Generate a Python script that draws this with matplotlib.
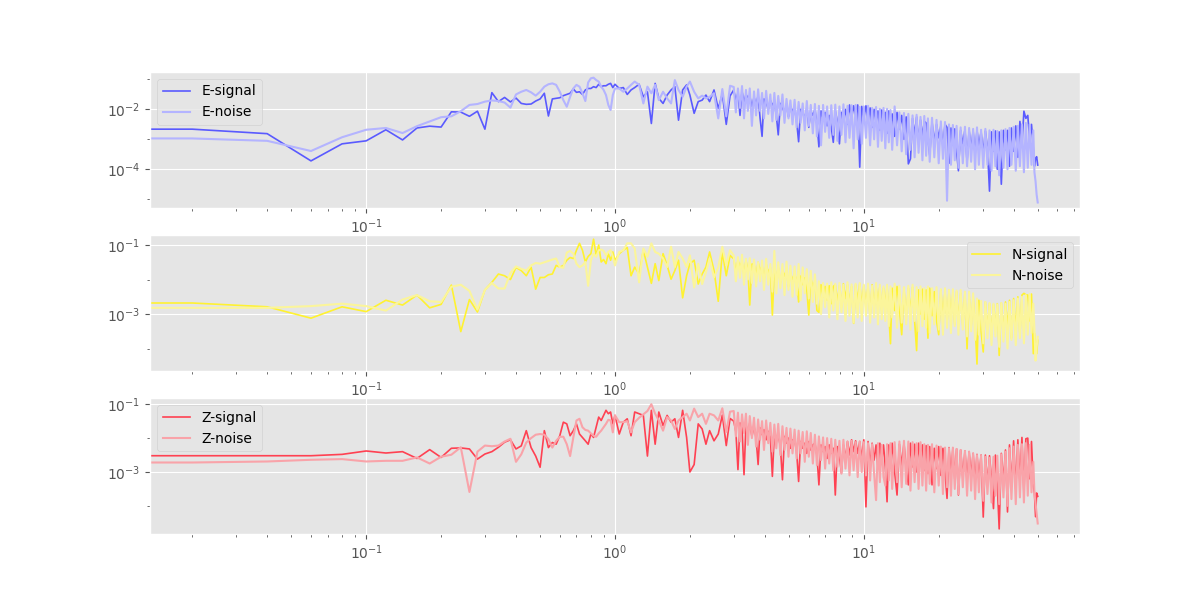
import numpy as np
import matplotlib
matplotlib.use('Agg')
from matplotlib import pyplot as plt
from matplotlib.ticker import NullFormatter

plt.style.use('ggplot')

# frequency bins (Hz)
freq = [0.00, 0.02, 0.04, 0.06, 0.08, 0.10, 0.12, 0.14, 0.16, 0.18, 0.20,
        0.22, 0.24, 0.26, 0.28, 0.30, 0.32, 0.34, 0.36, 0.38, 0.40,
        0.42, 0.44, 0.46, 0.48, 0.50, 0.52, 0.54, 0.56, 0.58, 0.60,
        0.62, 0.64, 0.66, 0.68, 0.70, 0.72, 0.74, 0.76, 0.78, 0.80,
        0.82, 0.84, 0.86, 0.88, 0.90, 0.92, 0.94, 0.96, 0.98, 1.00,
        1.04, 1.08, 1.12, 1.16, 1.2, 1.25, 1.3, 1.35, 1.4, 1.45, 1.5, 1.56, 1.62,
        1.68, 1.74, 1.8, 1.87, 1.94, 2.0, 2.08, 2.16, 2.24, 2.32, 2.4, 2.5, 2.6,
        2.7, 2.8, 2.9,
        3.00, 3.06, 3.12, 3.18, 3.24, 3.30, 3.36, 3.42, 3.48, 3.55,
        3.62, 3.69, 3.76, 3.83, 3.90, 3.97, 4.05, 4.13, 4.21, 4.29,
        4.37, 4.45, 4.53, 4.62, 4.71, 4.80, 4.89, 4.98, 5.07, 5.17,
        5.27, 5.37, 5.47, 5.57, 5.68, 5.79, 5.90, 6.01, 6.12, 6.24,
        6.36, 6.48, 6.60, 6.73, 6.86, 6.99, 7.12, 7.26, 7.40, 7.54,
        7.68, 7.83, 7.98, 8.13, 8.28, 8.44, 8.60, 8.76, 8.93, 9.10,
        9.27, 9.45, 9.63, 9.81, 10.0,
        10.2, 10.4, 10.6, 10.8, 11.0, 11.2, 11.4, 11.6, 11.8, 12.0,
        12.2, 12.4, 12.6, 12.8, 13.0, 13.3, 13.6, 13.9, 14.2, 14.5,
        14.8, 15.1, 15.4, 15.7, 16.0, 16.3, 16.6, 16.9, 17.2, 17.5,
        17.8, 18.1, 18.4, 18.8, 19.2, 19.6, 20.0, 20.4, 20.8, 21.2,
        21.6, 22.0, 22.4, 22.8, 23.2, 23.6, 24.0, 24.5, 25.0, 25.5,
        26.0, 26.5, 27.0, 27.5, 28.0, 28.5, 29.0, 29.6, 30.2, 30.8,
        31.4, 32.0, 32.6, 33.2, 33.8, 34.4, 35.0, 35.7, 36.4, 37.1,
        37.8, 38.5, 39.2, 40.0, 40.8, 41.6, 42.4, 43.2, 44.0, 44.8,
        45.6, 46.4, 47.2, 48.0, 48.5, 49.0, 49.5, 50.0]

# spectral amplitudes, stored as log10 values
e_signal = [-2.66, -2.66, -2.81, -3.72, -3.15, -3.05, -2.68, -3.02, -2.62, -2.56, -2.59,
            -2.08, -2.09, -2.23, -2.06, -2.66, -1.44, -1.74, -1.60, -1.75, -1.62,
            -1.80, -1.83, -1.82, -1.72, -1.65, -1.46, -2.22, -1.65, -1.63, -1.61,
            -1.54, -1.50, -1.46, -1.32, -1.43, -1.41, -1.50, -1.35, -1.30, -1.30,
            -1.24, -1.27, -1.16, -1.24, -1.21, -1.21, -1.16, -1.13, -1.27, -1.16,
            -1.30, -1.27, -1.50, -1.35, -1.27, -1.16, -1.58, -1.41, -2.47, -1.13, -1.63, -1.80, -1.52,
            -1.35, -1.24, -2.36, -1.35, -1.18, -1.52, -2.13, -1.74, -1.69, -1.52, -1.74, -1.35, -1.97,
            -1.49, -2.50, -1.55,
            -1.35, -1.70, -1.45, -2.20, -1.40, -1.75, -1.50, -1.60, -1.55, -1.90,
            -1.60, -1.80, -1.55, -2.30, -2.90, -1.65, -1.75, -2.00, -1.70, -1.85,
            -1.75, -2.20, -2.85, -1.80, -1.95, -2.10, -1.85, -2.25, -1.90, -2.05,
            -1.95, -2.40, -3.08, -2.00, -2.10, -2.30, -1.95, -2.60, -2.05, -2.20,
            -2.00, -2.45, -3.25, -2.05, -2.30, -2.10, -2.55, -2.20, -2.60, -3.10,
            -2.05, -2.40, -3.15, -2.10, -2.35, -2.00, -2.50, -1.85, -2.30, -1.88,
            -2.20, -1.85, -3.93, -1.90, -2.30,
            -1.88, -2.40, -1.95, -2.60, -2.00, -2.45, -2.05, -2.70, -2.02, -2.50,
            -2.10, -2.80, -2.05, -2.55, -2.15, -2.90, -2.10, -2.65, -2.20, -3.00,
            -2.25, -3.82, -3.65, -2.30, -2.85, -2.25, -3.10, -2.35, -2.90, -2.40,
            -2.45, -3.00, -3.53, -2.42, -3.10, -2.50, -2.95, -2.55, -3.20, -2.50,
            -2.60, -3.80, -2.62, -3.20, -2.65, -3.40, -4.05, -2.70, -3.15, -2.68,
            -3.75, -2.70, -3.30, -2.72, -3.50, -2.70, -3.20, -2.75, -3.45, -2.72,
            -3.30, -4.73, -2.75, -3.40, -2.72, -4.00, -2.75, -4.50, -2.70, -3.35,
            -2.70, -3.90, -2.62, -3.40, -2.55, -3.60, -2.40, -3.20, -2.06, -2.30,
            -2.20, -3.00, -2.50, -3.30, -3.90, -3.64, -3.58, -3.86]
e_noise = [-2.97, -2.97, -3.05, -3.39, -2.93, -2.68, -2.62, -2.79, -2.56, -2.40, -2.26,
           -2.23, -2.06, -1.85, -1.82, -1.74, -1.70, -1.72, -1.77, -1.94, -1.50,
           -1.41, -1.35, -1.43, -1.54, -1.41, -1.24, -1.16, -1.13, -1.18, -1.41,
           -1.69, -1.91, -1.58, -1.30, -1.18, -1.24, -1.46, -1.72, -1.10, -0.96,
           -0.94, -1.02, -1.07, -1.24, -1.35, -1.52, -1.85, -2.02, -1.52, -1.30,
           -1.30, -1.41, -1.30, -1.18, -1.07, -1.18, -1.80, -1.24, -1.46, -1.18, -1.69, -1.41, -1.63,
           -1.80, -1.02, -1.35, -1.58, -1.24, -1.07, -1.41, -1.63, -1.54, -1.63, -1.58, -1.46, -2.30,
           -1.32, -2.23, -1.21,
           -1.25, -2.10, -1.30, -1.95, -1.22, -2.30, -1.35, -2.05, -1.30, -2.55,
           -1.40, -2.20, -1.33, -2.05, -1.45, -2.30, -1.38, -2.15, -1.50, -2.40,
           -1.45, -2.35, -1.55, -2.20, -1.50, -2.45, -1.65, -2.30, -1.70, -2.50,
           -1.68, -2.60, -1.75, -2.45, -1.80, -2.70, -1.72, -2.55, -1.85, -2.80,
           -1.82, -2.90, -1.88, -3.20, -1.85, -2.75, -1.90, -2.95, -1.86, -2.85,
           -1.84, -3.05, -1.90, -2.85, -1.83, -3.10, -1.88, -2.95, -1.86, -3.30,
           -1.85, -3.00, -1.92, -3.15, -1.90,
           -2.95, -1.88, -3.20, -1.95, -3.00, -1.92, -3.25, -1.98, -3.05, -1.95,
           -3.30, -1.98, -3.10, -2.02, -3.35, -1.90, -3.20, -2.10, -3.40, -2.12,
           -3.50, -2.15, -3.35, -2.20, -3.60, -2.18, -3.45, -2.25, -3.70, -2.22,
           -3.55, -2.30, -3.75, -2.28, -3.60, -2.35, -3.80, -2.40, -3.65, -2.42,
           -5.05, -2.50, -3.85, -2.52, -3.70, -2.55, -3.95, -2.60, -3.80, -2.58,
           -3.90, -2.62, -3.75, -2.65, -4.00, -2.60, -3.85, -2.68, -3.95, -2.65,
           -3.85, -2.70, -4.05, -2.68, -3.90, -2.72, -4.20, -2.70, -3.95, -2.66,
           -4.00, -2.62, -3.85, -2.58, -4.05, -2.55, -3.90, -2.50, -4.10, -2.45,
           -3.95, -2.50, -3.85, -2.70, -4.10, -4.40, -4.85, -5.11]

n_signal = [-2.68, -2.68, -2.79, -3.12, -2.79, -2.93, -2.60, -2.74, -2.45, -2.82, -2.72,
            -2.16, -3.51, -2.58, -2.94, -2.30, -2.08, -1.84, -1.89, -2.00, -1.65,
            -1.74, -1.89, -1.64, -2.28, -1.94, -1.94, -1.86, -1.84, -1.59, -1.64,
            -1.59, -1.44, -1.36, -1.39, -1.15, -0.95, -1.15, -1.49, -1.33, -1.25,
            -0.83, -1.30, -1.00, -1.49, -1.42, -1.54, -1.25, -1.44, -1.20, -1.44,
            -1.25, -1.15, -1.07, -1.89, -1.64, -1.84, -1.15, -1.64, -2.11, -1.54, -2.03, -1.25, -1.59,
            -1.99, -1.74, -1.44, -2.53, -1.89, -1.54, -1.44, -2.13, -1.84, -1.64, -1.20, -1.74, -2.63,
            -1.20, -1.89, -1.30,
            -1.40, -1.75, -1.45, -1.60, -1.50, -1.85, -1.45, -1.70, -2.74, -1.55,
            -1.55, -1.90, -1.50, -1.75, -1.60, -2.00, -1.55, -1.80, -1.65, -3.03,
            -1.70, -1.95, -1.65, -2.10, -1.75, -1.90, -1.70, -2.20, -1.80, -2.00,
            -1.85, -2.00, -2.65, -1.90, -2.15, -1.95, -2.30, -3.03, -1.95, -2.20,
            -2.05, -2.90, -2.95, -2.15, -2.50, -2.20, -2.60, -2.18, -2.70, -2.20,
            -2.15, -2.65, -2.18, -2.80, -2.12, -2.55, -2.15, -2.70, -2.20, -3.27,
            -2.15, -2.60, -2.12, -2.75, -2.18,
            -2.70, -2.20, -3.07, -2.15, -2.80, -2.22, -2.65, -2.20, -2.90, -2.25,
            -2.75, -2.20, -3.00, -3.86, -2.25, -2.90, -2.20, -2.85, -3.60, -2.28,
            -3.10, -2.25, -2.95, -2.22, -3.20, -4.06, -2.30, -3.00, -2.28, -3.15,
            -2.30, -3.70, -2.25, -3.05, -2.35, -3.20, -3.60, -2.30, -3.10, -2.35,
            -3.25, -2.32, -3.15, -2.40, -3.30, -2.35, -3.20, -2.40, -3.35, -2.38,
            -4.01, -2.45, -3.40, -2.50, -3.30, -4.45, -2.60, -3.50, -4.10, -2.65,
            -3.45, -2.70, -3.60, -2.72, -3.40, -2.70, -4.20, -2.68, -3.55, -2.65,
            -3.40, -2.60, -3.70, -2.55, -3.45, -2.50, -3.60, -2.45, -2.40, -2.44,
            -2.45, -3.20, -2.42, -4.15, -3.56, -3.86, -4.15, -3.76]
n_noise = [-2.82, -2.82, -2.82, -2.77, -2.70, -2.77, -2.90, -2.58, -2.45, -2.63, -2.65,
           -2.21, -2.15, -2.33, -2.87, -2.30, -2.10, -2.26, -2.26, -1.81, -1.62,
           -1.69, -1.74, -1.59, -1.52, -1.54, -1.50, -1.46, -1.42, -1.39, -1.64,
           -1.66, -1.22, -1.17, -1.25, -1.54, -1.64, -1.59, -1.49, -2.18, -1.44,
           -1.25, -1.34, -1.15, -1.13, -1.17, -1.30, -1.20, -1.15, -1.34, -1.59,
           -1.20, -1.15, -0.95, -0.95, -1.10, -2.08, -1.10, -1.34, -0.95, -1.20, -1.25, -1.39, -1.64,
           -1.05, -1.64, -1.20, -1.39, -1.64, -1.30, -2.23, -1.54, -2.13, -1.79, -1.39, -1.94, -1.64,
           -1.05, -1.59, -1.15,
           -1.30, -2.05, -1.35, -1.95, -1.28, -2.15, -1.40, -2.00, -1.38, -2.10,
           -1.42, -2.20, -1.50, -2.05, -1.45, -2.30, -1.40, -2.15, -1.55, -2.35,
           -1.17, -2.40, -1.50, -2.25, -1.55, -2.45, -1.48, -2.30, -1.60, -2.50,
           -1.62, -2.45, -1.55, -2.60, -1.65, -2.40, -1.70, -2.55, -1.75, -2.65,
           -1.85, -2.70, -2.05, -3.00, -2.10, -2.80, -2.12, -3.10, -2.08, -2.90,
           -2.12, -3.15, -2.10, -2.95, -2.15, -3.20, -2.08, -3.05, -2.14, -3.25,
           -2.12, -3.10, -2.10, -3.20, -2.15,
           -3.05, -2.12, -3.25, -2.18, -3.10, -2.10, -3.30, -2.15, -3.15, -2.20,
           -3.20, -2.15, -3.35, -2.20, -3.10, -2.12, -3.40, -2.18, -3.25, -2.22,
           -3.30, -2.18, -3.45, -2.15, -3.20, -2.22, -3.50, -2.20, -3.35, -2.25,
           -3.40, -2.20, -3.55, -2.25, -3.30, -2.22, -3.45, -2.28, -3.60, -2.25,
           -3.40, -2.30, -3.55, -2.28, -3.35, -2.32, -3.60, -2.30, -3.45, -2.35,
           -3.65, -2.35, -3.50, -2.40, -3.75, -2.55, -3.60, -2.62, -3.85, -2.65,
           -3.70, -2.68, -3.90, -2.70, -3.65, -2.72, -3.95, -2.68, -3.80, -2.70,
           -4.00, -2.65, -3.75, -2.60, -3.90, -2.55, -3.70, -2.50, -3.85, -2.45,
           -3.60, -2.42, -3.55, -2.70, -3.46, -4.35, -3.96, -3.66]

z_signal = [-2.52, -2.52, -2.52, -2.52, -2.48, -2.38, -2.44, -2.40, -2.60, -2.34, -2.57,
            -2.30, -2.29, -2.32, -2.62, -2.47, -2.40, -2.27, -2.12, -2.05, -2.32,
            -2.23, -1.78, -2.28, -2.53, -2.86, -1.78, -2.28, -2.13, -2.18, -1.93,
            -1.53, -1.58, -1.93, -1.78, -1.58, -1.88, -1.98, -2.08, -2.18, -1.88,
            -1.98, -1.68, -1.38, -1.48, -1.33, -1.18, -1.28, -1.23, -1.58, -1.33,
            -1.88, -1.53, -1.43, -1.93, -1.23, -1.28, -1.33, -2.53, -1.18, -2.18, -1.23, -1.63, -1.33,
            -1.53, -1.43, -1.98, -1.18, -1.98, -3.00, -2.78, -1.58, -1.73, -2.18, -1.78, -2.08, -1.88,
            -1.32, -2.22, -1.42,
            -1.50, -1.80, -2.93, -1.55, -1.70, -3.08, -1.60, -1.85, -1.55, -1.95,
            -1.65, -2.00, -2.78, -1.70, -1.90, -1.75, -2.05, -1.80, -1.95, -3.13,
            -1.85, -2.10, -1.90, -2.25, -3.23, -1.95, -2.15, -2.00, -2.30, -2.05,
            -2.05, -2.40, -3.28, -2.10, -2.30, -2.15, -2.45, -2.10, -2.35, -2.20,
            -2.15, -2.50, -3.38, -2.20, -2.40, -2.25, -2.60, -2.20, -2.45, -2.30,
            -3.68, -2.25, -2.55, -3.03, -2.20, -2.60, -2.10, -2.50, -2.05, -2.40,
            -2.08, -2.45, -2.10, -2.60, -2.05,
            -4.03, -2.10, -2.80, -2.15, -2.65, -2.20, -2.90, -2.15, -2.70, -2.20,
            -2.85, -3.88, -2.20, -2.75, -2.15, -3.00, -3.68, -2.18, -2.80, -2.15,
            -2.90, -3.38, -2.15, -2.85, -2.18, -3.00, -2.15, -2.80, -2.20, -2.95,
            -2.22, -3.05, -2.25, -3.38, -2.30, -2.90, -2.25, -3.10, -2.30, -3.00,
            -3.78, -2.28, -3.10, -2.30, -3.20, -2.32, -3.68, -2.35, -3.15, -2.38,
            -3.25, -2.40, -3.10, -2.45, -3.30, -2.48, -3.20, -2.50, -4.33, -2.50,
            -3.35, -2.52, -3.20, -4.08, -2.50, -3.40, -4.68, -2.45, -3.30, -2.35,
            -4.18, -2.20, -3.40, -2.08, -3.50, -2.05, -3.30, -1.98, -3.63, -2.02,
            -2.00, -3.20, -2.10, -3.40, -3.62, -4.32, -3.62, -3.72]
z_noise = [-2.72, -2.72, -2.69, -2.64, -2.62, -2.69, -2.67, -2.67, -2.57, -2.75, -2.55,
           -2.49, -2.27, -3.59, -2.40, -2.22, -2.24, -2.22, -2.10, -2.02, -2.70,
           -2.48, -2.13, -2.00, -1.90, -1.88, -1.90, -2.03, -2.28, -2.08, -1.96,
           -1.96, -2.18, -2.53, -1.98, -1.48, -1.43, -1.68, -1.76, -1.78, -1.86,
           -1.93, -1.96, -1.86, -1.78, -1.68, -1.58, -1.46, -1.48, -1.83, -1.33,
           -1.53, -1.53, -1.50, -1.83, -1.53, -1.40, -1.30, -1.20, -1.00, -1.28, -1.48, -1.78, -1.38,
           -1.48, -1.73, -1.48, -1.38, -1.28, -1.48, -1.13, -1.38, -1.28, -1.58, -1.28, -1.33, -1.48,
           -1.12, -1.82, -1.22,
           -1.20, -1.95, -1.25, -2.10, -1.30, -1.85, -1.28, -2.20, -1.35, -2.00,
           -1.40, -2.25, -1.45, -2.05, -1.50, -2.35, -1.48, -2.15, -1.55, -2.40,
           -1.60, -2.30, -1.58, -2.50, -1.65, -2.35, -1.70, -2.55, -1.72, -2.45,
           -1.75, -2.60, -1.78, -2.45, -1.82, -2.70, -1.80, -2.55, -1.85, -2.75,
           -1.90, -2.80, -1.95, -2.65, -1.98, -2.90, -2.00, -2.75, -2.02, -2.95,
           -2.05, -2.85, -2.08, -3.05, -2.05, -2.90, -2.10, -3.10, -2.08, -2.95,
           -2.12, -3.15, -2.10, -3.00, -2.12,
           -3.10, -2.15, -3.25, -2.18, -3.05, -3.83, -2.15, -3.30, -2.20, -3.15,
           -3.40, -2.18, -3.25, -2.15, -3.50, -2.12, -3.30, -2.10, -3.45, -2.08,
           -3.35, -2.10, -3.55, -2.12, -3.30, -2.15, -3.50, -2.12, -3.40, -2.18,
           -3.55, -2.20, -3.35, -2.18, -3.60, -2.22, -3.40, -2.25, -3.65, -2.28,
           -3.45, -2.30, -3.70, -2.28, -3.50, -2.32, -3.65, -2.35, -3.45, -2.38,
           -3.70, -2.40, -3.55, -2.45, -3.80, -2.50, -3.60, -2.52, -3.85, -2.55,
           -3.65, -2.58, -3.90, -2.55, -3.70, -2.52, -3.95, -2.48, -3.75, -2.40,
           -4.00, -2.30, -3.80, -2.25, -3.95, -2.20, -3.75, -2.18, -3.90, -2.15,
           -3.70, -2.20, -3.60, -2.70, -3.62, -3.92, -4.22, -4.52]

components = ['E', 'N', 'Z']
signals = [e_signal, n_signal, z_signal]
noises = [e_noise, n_noise, z_noise]

# plot styling per component
sig_colors = ['#5a5aff', '#fff230', '#ff4152']
noi_colors = ['#b4b4ff', '#fbf59b', '#f9a3a9']
leg_loc = ['upper left', 'upper right', 'upper left']
ylims = [(-5.29, -0.75), (-4.65, -0.71), (-4.83, -0.82)]
yticks = [[1e-4, 1e-2], [1e-3, 1e-1], [1e-3, 1e-1]]
yminor = [[1e-5, 1e-3, 1e-1], [1e-4, 1e-2], [1e-4, 1e-2]]

f = np.array(freq)
fig, axes = plt.subplots(3, 1, figsize=(12, 6), dpi=100)
for i, ax in enumerate(axes):
    c = components[i]
    ax.plot(f, 10 ** np.array(signals[i]), color=sig_colors[i], lw=1.2,
            label=c + '-signal')
    ax.plot(f, 10 ** np.array(noises[i]), color=noi_colors[i], lw=1.5,
            label=c + '-noise')
    ax.set_xscale('log')
    ax.set_yscale('log')
    ax.set_ylim(10 ** ylims[i][0], 10 ** ylims[i][1])
    ax.set_yticks(yticks[i])
    ax.set_yticks(yminor[i], minor=True)
    ax.yaxis.set_minor_formatter(NullFormatter())
    ax.legend(loc=leg_loc[i])

fig.savefig('out.png')
